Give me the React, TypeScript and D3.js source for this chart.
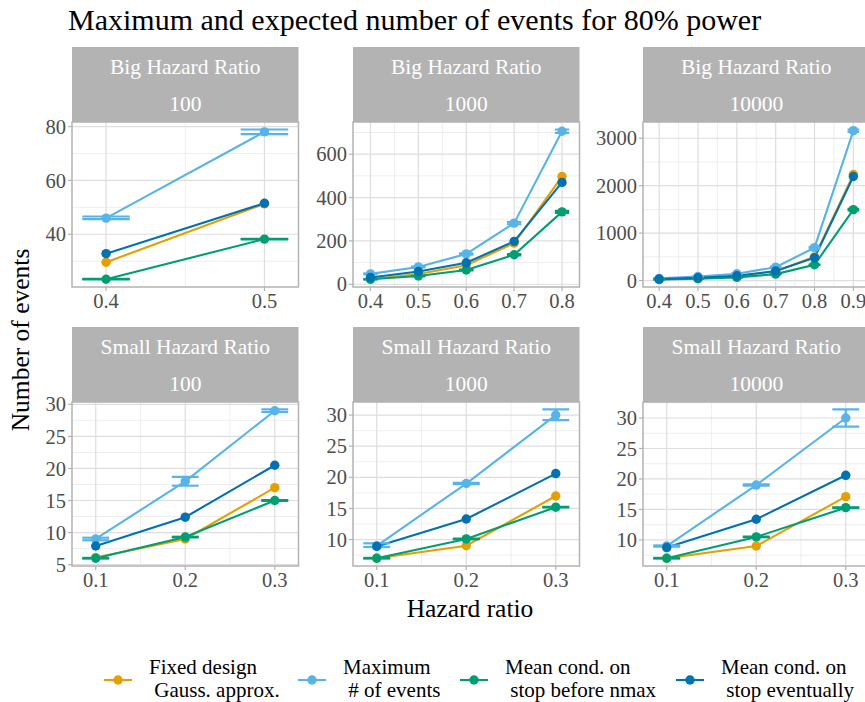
import * as d3 from "d3"

// series (legend order) and Okabe-Ito colours
const seriesNames = [
  "Fixed design\n Gauss. approx.",
  "Maximum\n # of events",
  "Mean cond. on\n stop before nmax",
  "Mean cond. on\n stop eventually",
]
const seriesColors = ["#E69F00", "#56B4E9", "#009E73", "#0072B2"]

// facet labels
const stripTop = [
  "Big Hazard Ratio", "Big Hazard Ratio", "Big Hazard Ratio",
  "Small Hazard Ratio", "Small Hazard Ratio", "Small Hazard Ratio",
]
const stripBottom = ["100", "1000", "10000", "100", "1000", "10000"]

// x values per panel
const hazardRatios = [
  [0.4, 0.5],
  [0.4, 0.5, 0.6, 0.7, 0.8],
  [0.4, 0.5, 0.6, 0.7, 0.8, 0.9],
  [0.1, 0.2, 0.3],
  [0.1, 0.2, 0.3],
  [0.1, 0.2, 0.3],
]

const fixedDesign = [
  [29.6, 51.3],
  [23, 47, 88, 190, 497],
  [24, 45, 90, 195, 500, 2235],
  [6.1, 9.0, 17.0],
  [7.0, 9.0, 17.0],
  [7.0, 9.0, 17.1],
]
const maxEvents = [
  [46, 78],
  [48, 80, 140, 282, 706],
  [45, 85, 142, 282, 694, 3160],
  [9.0, 18.0, 29.0],
  [9.0, 19.0, 30.0],
  [9.0, 19.0, 30.0],
]
const maxLow = [
  [45.6, 77.2],
  [46, 78, 137, 277, 698],
  [43, 82, 137, 274, 679, 3135],
  [8.8, 17.3, 28.8],
  [8.8, 18.9, 29.2],
  [8.9, 18.9, 28.6],
]
const maxHigh = [
  [46.6, 78.9],
  [50, 82, 143, 287, 714],
  [47, 88, 147, 290, 709, 3185],
  [9.2, 18.7, 29.2],
  [9.4, 19.1, 30.9],
  [9.1, 19.1, 31.4],
]
const meanBefore = [
  [23.3, 38.2],
  [23, 38, 66, 136, 334],
  [23, 38, 66, 135, 333, 1495],
  [6.0, 9.3, 15.0],
  [7.0, 10.1, 15.2],
  [7.0, 10.5, 15.3],
]
const beforeLow = [
  [23.2, 38.1],
  [22, 37, 64, 133, 329],
  [22, 37, 64, 132, 327, 1480],
  [5.95, 9.25, 14.95],
  [6.95, 10.05, 15.15],
  [6.95, 10.45, 15.25],
]
const beforeHigh = [
  [23.4, 38.3],
  [24, 39, 68, 139, 339],
  [24, 39, 68, 138, 339, 1510],
  [6.05, 9.35, 15.05],
  [7.05, 10.15, 15.25],
  [7.05, 10.55, 15.35],
]
const meanEventually = [
  [32.8, 51.5],
  [31, 59, 99, 198, 470],
  [32, 58, 100, 200, 482, 2193],
  [7.9, 12.4, 20.5],
  [8.9, 13.3, 20.6],
  [8.75, 13.4, 20.6],
]

const yBreaks = [
  [40, 60, 80],
  [0, 200, 400, 600],
  [0, 1000, 2000, 3000],
  [5, 10, 15, 20, 25, 30],
  [10, 15, 20, 25, 30],
  [10, 15, 20, 25, 30],
]

const errWidth = 0.03
const font = "'Liberation Serif', 'Times New Roman', serif"

function minorBreaks(major: number[], domain: number[]) {
  const step = major[1] - major[0]
  const ext = [major[0] - step, ...major, major[major.length - 1] + step]
  const out: number[] = []
  for (let k = 0; k < ext.length - 1; k++) {
    const m = (ext[k] + ext[k + 1]) / 2
    if (m >= domain[0] && m <= domain[1]) out.push(m)
  }
  return out
}

function expand(lo: number, hi: number) {
  const pad = (hi - lo) * 0.05
  return [lo - pad, hi + pad]
}

function Panel({ i, left, top, width, height }: any) {
  const xs = hazardRatios[i]
  const values = [fixedDesign[i], maxEvents[i], meanBefore[i], meanEventually[i]]
  const errors = [null, [maxLow[i], maxHigh[i]], [beforeLow[i], beforeHigh[i]], null]
  const stripH = 75
  const py = top + stripH

  const xDom = expand(d3.min(xs)! - errWidth / 2, d3.max(xs)! + errWidth / 2)
  const allY = [...values.flat(), ...maxLow[i], ...maxHigh[i], ...beforeLow[i], ...beforeHigh[i]]
  const yDom = expand(d3.min(allY)!, d3.max(allY)!)

  const x = d3.scaleLinear().domain(xDom).range([left, left + width])
  const y = d3.scaleLinear().domain(yDom).range([py + height, py])
  const line = d3
    .line<number>()
    .x((_, k) => x(xs[k]))
    .y((d) => y(d))

  const xMinor = minorBreaks(xs, xDom)
  const yMinor = minorBreaks(yBreaks[i], yDom)
  const clipId = `clip${i}`

  return (
    <g>
      {/* strips */}
      <rect x={left} y={top} width={width} height={stripH} fill="#B3B3B3" />
      <text x={left + width / 2} y={top + 19} dy="0.35em" textAnchor="middle" fill="#fff" fontSize={21.5}>
        {stripTop[i]}
      </text>
      <text x={left + width / 2} y={top + 56.5} dy="0.35em" textAnchor="middle" fill="#fff" fontSize={21.5}>
        {stripBottom[i]}
      </text>

      {/* grid */}
      <rect x={left} y={py} width={width} height={height} fill="#fff" />
      {xMinor.map((v) => (
        <line key={"xm" + v} x1={x(v)} x2={x(v)} y1={py} y2={py + height} stroke="#E6E6E6" strokeWidth={0.7} />
      ))}
      {yMinor.map((v) => (
        <line key={"ym" + v} x1={left} x2={left + width} y1={y(v)} y2={y(v)} stroke="#E6E6E6" strokeWidth={0.7} />
      ))}
      {xs.map((v) => (
        <line key={"xM" + v} x1={x(v)} x2={x(v)} y1={py} y2={py + height} stroke="#DEDEDE" strokeWidth={1.2} />
      ))}
      {yBreaks[i].map((v) => (
        <line key={"yM" + v} x1={left} x2={left + width} y1={y(v)} y2={y(v)} stroke="#DEDEDE" strokeWidth={1.2} />
      ))}

      <clipPath id={clipId}>
        <rect x={left} y={py} width={width} height={height} />
      </clipPath>
      <g clipPath={`url(#${clipId})`}>
        {values.map((vals, s) => (
          <path key={"l" + s} d={line(vals)!} fill="none" stroke={seriesColors[s]} strokeWidth={2.1} />
        ))}
        {errors.map((e, s) =>
          e
            ? xs.map((xv, k) => (
                <g key={`e${s}-${k}`} stroke={seriesColors[s]} strokeWidth={2.2}>
                  <line x1={x(xv - errWidth / 2)} x2={x(xv + errWidth / 2)} y1={y(e[0][k])} y2={y(e[0][k])} />
                  <line x1={x(xv - errWidth / 2)} x2={x(xv + errWidth / 2)} y1={y(e[1][k])} y2={y(e[1][k])} />
                  <line x1={x(xv)} x2={x(xv)} y1={y(e[0][k])} y2={y(e[1][k])} />
                </g>
              ))
            : null
        )}
        {values.map((vals, s) =>
          vals.map((v, k) => <circle key={`p${s}-${k}`} cx={x(xs[k])} cy={y(v)} r={4.7} fill={seriesColors[s]} />)
        )}
      </g>
      <rect x={left} y={py} width={width} height={height} fill="none" stroke="#B3B3B3" strokeWidth={1.5} />

      {/* axes */}
      {xs.map((v) => (
        <g key={"xt" + v}>
          <line x1={x(v)} x2={x(v)} y1={py + height} y2={py + height + 4} stroke="#B3B3B3" strokeWidth={1.2} />
          <text x={x(v)} y={py + height + 21} textAnchor="middle" fill="#4D4D4D" fontSize={20.5}>
            {d3.format(".1f")(v)}
          </text>
        </g>
      ))}
      {yBreaks[i].map((v) => (
        <g key={"yt" + v}>
          <line x1={left - 4} x2={left} y1={y(v)} y2={y(v)} stroke="#B3B3B3" strokeWidth={1.2} />
          <text x={left - 6} y={y(v)} dy="0.35em" textAnchor="end" fill="#4D4D4D" fontSize={20.5}>
            {v}
          </text>
        </g>
      ))}
    </g>
  )
}

export default function App() {
  const W = 865
  const H = 702
  const colLeft = [72, 353, 643]
  const panelW = 226.5
  const rowTop = [47, 327]
  const panelH = [165, 164]
  const legendX = [118, 312, 474, 690]

  return (
    <div style={{ position: "absolute", left: 0, top: 0 }}>
      <svg width={W} height={H} fontFamily={font} style={{ display: "block", background: "#fff" }}>
        <text x={68} y={30} fontSize={30} fill="#000">
          Maximum and expected number of events for 80% power
        </text>

        {stripTop.map((_, i) => (
          <Panel
            key={i}
            i={i}
            left={colLeft[i % 3]}
            top={rowTop[Math.floor(i / 3)]}
            width={panelW}
            height={panelH[Math.floor(i / 3)]}
          />
        ))}

        <text transform="translate(29,340) rotate(-90)" textAnchor="middle" fontSize={25.5} fill="#000">
          Number of events
        </text>
        <text x={470} y={617} textAnchor="middle" fontSize={25.5} fill="#000">
          Hazard ratio
        </text>

        {/* legend */}
        {seriesNames.map((name, s) => (
          <g key={"lg" + s}>
            <line x1={legendX[s] - 14} x2={legendX[s] + 14} y1={680} y2={680} stroke={seriesColors[s]} strokeWidth={2.1} />
            <circle cx={legendX[s]} cy={680} r={4.7} fill={seriesColors[s]} />
            {name.split("\n").map((t, k) => (
              <text
                key={k}
                x={legendX[s] + 31}
                y={674 + k * 23}
                fontSize={21}
                fill="#000"
                style={{ whiteSpace: "pre" }}
              >
                {t}
              </text>
            ))}
          </g>
        ))}
      </svg>
    </div>
  )
}
